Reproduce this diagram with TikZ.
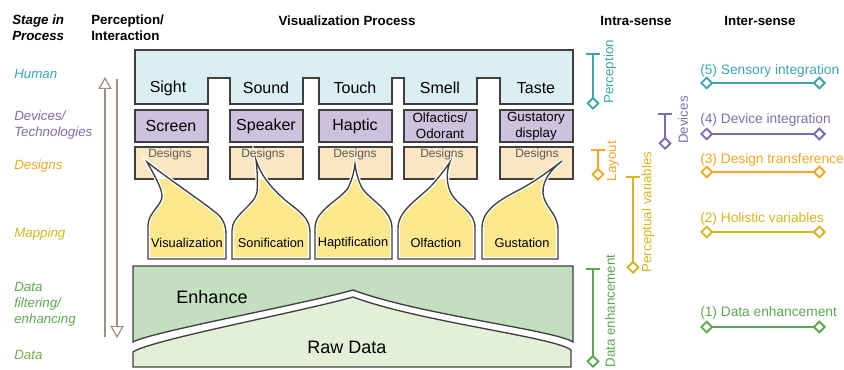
\documentclass[tikz,border=0pt]{standalone}
\usepackage{fontspec}
\setmainfont{Liberation Sans}
\usetikzlibrary{arrows.meta}

\definecolor{cEdge}{HTML}{3F3F3F}
\definecolor{cArrow}{HTML}{A08E80}
\definecolor{cHuman}{HTML}{3DA5B2}
\definecolor{cHumanFill}{HTML}{DAEEF3}
\definecolor{cDevice}{HTML}{7F6BB5}
\definecolor{cDeviceFill}{HTML}{CCC2DE}
\definecolor{cDesign}{HTML}{F6A623}
\definecolor{cDesignFill}{HTML}{FDE7C3}
\definecolor{cMap}{HTML}{D8B51E}
\definecolor{cMapFill}{HTML}{FDE88E}
\definecolor{cData}{HTML}{5BA84F}
\definecolor{cDataLight}{HTML}{78AE45}
\definecolor{cEnhanceFill}{HTML}{C3DFC0}
\definecolor{cRawFill}{HTML}{E3F0D7}
\definecolor{cSmallText}{HTML}{595959}

\tikzset{
  head/.style={font=\bfseries\fontsize{10}{12}\selectfont, align=left, inner sep=0pt},
  stage/.style={font=\itshape\fontsize{10}{12}\selectfont, align=left, anchor=west, inner sep=0pt},
  boxline/.style={draw=cEdge, line width=1.1pt},
  bigtext/.style={font=\fontsize{12}{14}\selectfont, inner sep=0pt},
  smalltext/.style={font=\fontsize{10}{12}\selectfont, align=center, inner sep=0pt},
  designtext/.style={font=\fontsize{9}{11}\selectfont, text=cSmallText, inner sep=0pt},
  maptext/.style={font=\fontsize{9.6}{11}\selectfont, inner sep=0pt},
  datatext/.style={font=\fontsize{13.5}{16}\selectfont, inner sep=0pt},
  sidetext/.style={font=\fontsize{10}{12}\selectfont, rotate=90, inner sep=0pt},
  intertext/.style={font=\fontsize{10.3}{12}\selectfont, anchor=west, inner sep=0pt},
  flow/.style={draw=cArrow, line width=2.2pt,
    -{Triangle[length=9pt, width=10pt, fill=white, line width=0.9pt]}},
  endmark/.style={Diamond[length=10pt, width=10pt, fill=white, line width=1.4pt]},
  bracket/.style={line width=1.7pt,
    {Bar[width=10pt, line width=1.7pt]}-{Diamond[length=10pt, width=10pt, fill=white, line width=1.4pt]}},
  link/.style={line width=1.7pt,
    {Diamond[length=10pt, width=10pt, fill=white, line width=1.4pt]}-{Diamond[length=10pt, width=10pt, fill=white, line width=1.4pt]}}
}

% one mapping blob: yellow body, white throat inside the design box, dark outline
\newcommand\mapblob[1]{%
  \path[draw=white, line width=3pt, fill=cMapFill] #1;
  \begin{scope}
    \clip (120,140) rectangle (590,179);
    \path[fill=white] #1;
  \end{scope}
  \path[draw=cEdge, line width=1pt] #1;
}

\begin{document}
\begin{tikzpicture}[x=0.75pt, y=-0.75pt]
\useasboundingbox (0,0) rectangle (844,370);

% column headings
\node[head, anchor=west] (hStage) at (12,28) {\itshape Stage in\\\itshape Process};
\node[head, anchor=west] (hPerc) at (91,28) {Perception/\\Interaction};
\node[head] (hVis) at (347,21) {Visualization Process};
\node[head] (hIntra) at (636,21) {Intra-sense};
\node[head] (hInter) at (760,21) {Inter-sense};

% stages
\node[stage, text=cHuman] (stHuman) at (14,74) {Human};
\node[stage, text=cDevice] (stDevice) at (14,125) {Devices/\\Technologies};
\node[stage, text=cDesign] (stDesign) at (14,166) {Designs};
\node[stage, text=cMap] (stMap) at (14,234) {Mapping};
\node[stage, text=cData] (stFilter) at (14,304) {Data\\filtering/\\enhancing};
\node[stage, text=cDataLight] (stData) at (14,355) {Data};

% perception / interaction arrows
\coordinate (upS) at (105,337);
\coordinate (upE) at (105,77);
\coordinate (dnS) at (117,79);
\coordinate (dnE) at (117,338);
\draw[flow] (upS) -- (upE);
\draw[flow] (dnS) -- (dnE);

% senses
\draw[boxline, fill=cHumanFill]
  (135,50) -- (573,50) -- (573,104) -- (500,104) -- (500,78) -- (477,78) -- (477,104)
  -- (404,104) -- (404,78) -- (392,78) -- (392,104) -- (319,104) -- (319,78)
  -- (303,78) -- (303,104) -- (230,104) -- (230,78) -- (208,78) -- (208,104)
  -- (135,104) -- cycle;
\node[bigtext] (sSight) at (168,88) {Sight};
\node[bigtext] (sSound) at (266,88) {Sound};
\node[bigtext] (sTouch) at (355,88) {Touch};
\node[bigtext] (sSmell) at (440,88) {Smell};
\node[bigtext] (sTaste) at (536,88) {Taste};

% devices
\foreach \a/\b in {135/208, 230/303, 319/392, 404/477, 500/573}
  \draw[boxline, fill=cDeviceFill] (\a,110) rectangle (\b,142);
\node[bigtext] (dScreen) at (171,126) {Screen};
\node[bigtext] (dSpeaker) at (266,126) {Speaker};
\node[bigtext] (dHaptic) at (355,126) {Haptic};
\node[smalltext] (dOlf) at (440,126) {Olfactics/\\Odorant};
\node[smalltext] (dGus) at (536,126) {Gustatory\\display};

% designs
\foreach \a/\b in {135/208, 230/303, 319/392, 404/477, 500/573}
  \draw[boxline, fill=cDesignFill] (\a,147) rectangle (\b,179);

% mappings
\mapblob{(148,259) -- (148,226) .. controls (148,212) and (163,205) .. (162,195)
  .. controls (161,185) and (150,168) .. (147,162)
  .. controls (170,180) and (200,200) .. (215,212)
  .. controls (223,218) and (226,225) .. (226,235) -- (226,259) -- cycle}
\mapblob{(232,259) -- (232,230) .. controls (232,215) and (255,205) .. (257,192)
  .. controls (258,180) and (257,168) .. (256,160)
  .. controls (262,178) and (272,188) .. (285,200)
  .. controls (300,212) and (310,218) .. (310,232) -- (310,259) -- cycle}
\mapblob{(315,259) -- (315,228) .. controls (315,210) and (340,200) .. (348,188)
  .. controls (352,180) and (354,172) .. (355,164)
  .. controls (356,172) and (358,180) .. (362,188)
  .. controls (370,200) and (392,210) .. (392,228) -- (392,259) -- cycle}
\mapblob{(398,259) -- (398,228) .. controls (398,210) and (420,198) .. (432,185)
  .. controls (440,176) and (446,168) .. (450,162)
  .. controls (446,172) and (446,185) .. (452,195)
  .. controls (460,207) and (475,212) .. (475,228) -- (475,259) -- cycle}
\mapblob{(482,259) -- (482,228) .. controls (482,210) and (500,200) .. (515,192)
  .. controls (535,182) and (550,170) .. (562,161)
  .. controls (548,172) and (540,185) .. (544,198)
  .. controls (548,210) and (558,215) .. (558,230) -- (558,259) -- cycle}

\node[designtext] (g1) at (170,154) {Designs};
\node[designtext] (g2) at (263,154) {Designs};
\node[designtext] (g3) at (355,154) {Designs};
\node[designtext] (g4) at (442,154) {Designs};
\node[designtext] (g5) at (537,154) {Designs};

\node[maptext] (mVis) at (187,243) {Visualization};
\node[maptext] (mSon) at (271,243) {Sonification};
\node[maptext] (mHap) at (353,243) {Haptification};
\node[maptext] (mOlf) at (436,243) {Olfaction};
\node[maptext] (mGus) at (522,243) {Gustation};

% data
\draw[boxline, line width=1pt, fill=cEnhanceFill]
  (133,266) -- (573,266) -- (573,342)
  .. controls (555,330) and (420,315) .. (353,290)
  .. controls (300,305) and (150,332) .. (133,342) -- cycle;
\draw[boxline, line width=1pt, fill=cRawFill]
  (133,367) -- (133,352)
  .. controls (150,340) and (300,312) .. (353,297)
  .. controls (420,322) and (555,337) .. (571,350) -- (571,367) -- cycle;
\node[datatext] (tEnh) at (212,297) {Enhance};
\node[datatext] (tRaw) at (347,347) {Raw Data};

% intra-sense brackets
\coordinate (pA) at (593,53);  \coordinate (pB) at (593,110);
\coordinate (vA) at (665,113); \coordinate (vB) at (665,150);
\coordinate (lA) at (598,149); \coordinate (lB) at (598,181);
\coordinate (qA) at (633,176); \coordinate (qB) at (633,274);
\coordinate (eA) at (593,268); \coordinate (eB) at (593,368);
\draw[bracket, cHuman] (pA) -- (pB);
\draw[bracket, cDevice] (vA) -- (vB);
\draw[bracket, cDesign] (lA) -- (lB);
\draw[bracket, cMap] (qA) -- (qB);
\draw[bracket, cData] (eA) -- (eB);
\node[sidetext, text=cHuman] (rPerc) at (610,72) {Perception};
\node[sidetext, text=cDevice] (rDev) at (683,120) {Devices};
\node[sidetext, text=cDesign] (rLay) at (613,161) {Layout};
\node[sidetext, text=cMap] (rVar) at (648,212) {Perceptual variables};
\node[sidetext, text=cData] (rEnh) at (610,311) {Data enhancement};

% inter-sense links
\coordinate (i5a) at (700,83);  \coordinate (i5b) at (826,83);
\coordinate (i4a) at (700,134); \coordinate (i4b) at (826,134);
\coordinate (i3a) at (700,172); \coordinate (i3b) at (826,172);
\coordinate (i2a) at (700,232); \coordinate (i2b) at (826,232);
\coordinate (i1a) at (700,327); \coordinate (i1b) at (826,327);
\draw[link, cHuman] (i5a) -- (i5b);
\draw[link, cDevice] (i4a) -- (i4b);
\draw[link, cDesign] (i3a) -- (i3b);
\draw[link, cMap] (i2a) -- (i2b);
\draw[link, cData] (i1a) -- (i1b);
\node[intertext, text=cHuman] (t5) at (700,71) {(5) Sensory integration};
\node[intertext, text=cDevice] (t4) at (700,120) {(4) Device integration};
\node[intertext, text=cDesign] (t3) at (700,160) {(3) Design transference};
\node[intertext, text=cMap] (t2) at (700,219) {(2) Holistic variables};
\node[intertext, text=cData] (t1) at (700,313) {(1) Data enhancement};
\end{tikzpicture}
\end{document}
